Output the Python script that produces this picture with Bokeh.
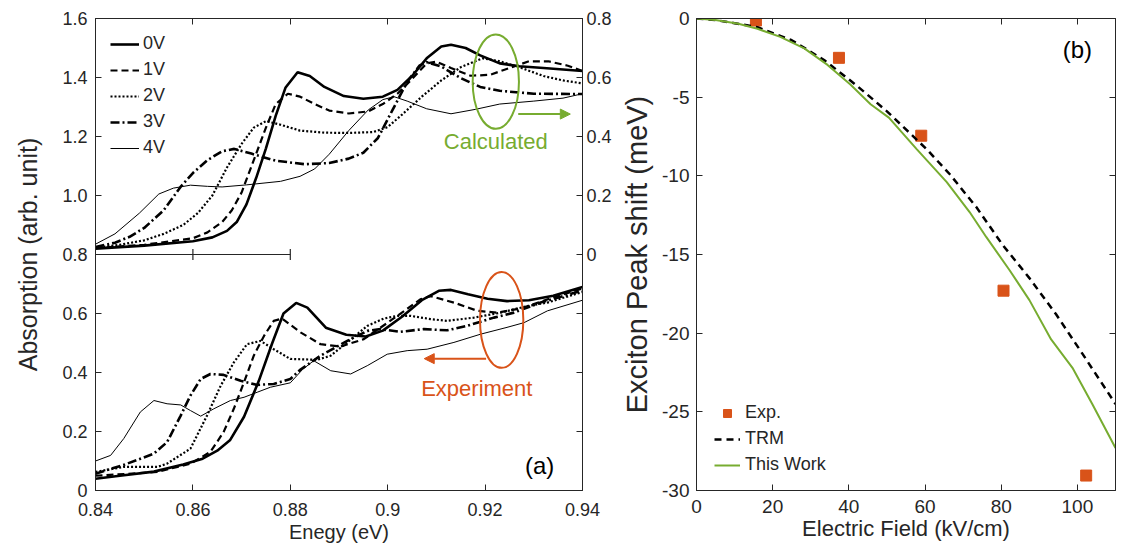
from bokeh.plotting import figure
from bokeh.models import (Range1d, LinearAxis, FixedTicker, Label, Arrow, NormalHead)
from bokeh.layouts import row
from bokeh.embed import file_html
from bokeh.resources import INLINE

FONT = "Liberation Sans"
TXT = "#262626"
GREEN = "#77AC30"
ORANGE = "#D95319"

# ---------------- panel (a) data ----------------
volt_labels = ["0V", "1V", "2V", "3V", "4V"]

# calculated spectra (right axis, 0..0.8)
calc0_x = [0.84, 0.85, 0.86, 0.864, 0.867, 0.869, 0.871, 0.873, 0.875, 0.877, 0.879, 0.8815, 0.884, 0.887, 0.891, 0.895, 0.899, 0.902, 0.905, 0.908, 0.911, 0.913, 0.916, 0.919, 0.923, 0.927, 0.932, 0.94]
calc0_y = [0.020, 0.030, 0.045, 0.058, 0.08, 0.11, 0.17, 0.26, 0.36, 0.47, 0.565, 0.618, 0.605, 0.568, 0.537, 0.528, 0.535, 0.558, 0.605, 0.665, 0.705, 0.711, 0.70, 0.675, 0.648, 0.638, 0.632, 0.622]
calc1_x = [0.84, 0.85, 0.86, 0.863, 0.866, 0.868, 0.870, 0.8725, 0.875, 0.877, 0.8795, 0.882, 0.885, 0.888, 0.892, 0.896, 0.899, 0.902, 0.905, 0.908, 0.910, 0.913, 0.917, 0.921, 0.925, 0.929, 0.933, 0.937, 0.94]
calc1_y = [0.022, 0.033, 0.055, 0.075, 0.11, 0.15, 0.21, 0.32, 0.43, 0.51, 0.545, 0.535, 0.51, 0.488, 0.478, 0.485, 0.51, 0.545, 0.595, 0.648, 0.654, 0.632, 0.606, 0.609, 0.632, 0.655, 0.655, 0.64, 0.622]
calc2_x = [0.84, 0.845, 0.85, 0.854, 0.858, 0.861, 0.864, 0.867, 0.870, 0.8725, 0.875, 0.878, 0.882, 0.887, 0.892, 0.897, 0.900, 0.903, 0.907, 0.911, 0.915, 0.9195, 0.923, 0.927, 0.932, 0.936, 0.94]
calc2_y = [0.022, 0.033, 0.048, 0.07, 0.10, 0.14, 0.20, 0.295, 0.375, 0.43, 0.452, 0.44, 0.42, 0.413, 0.412, 0.415, 0.432, 0.475, 0.535, 0.59, 0.635, 0.665, 0.655, 0.635, 0.605, 0.59, 0.58]
calc3_x = [0.84, 0.844, 0.847, 0.850, 0.854, 0.8575, 0.860, 0.863, 0.866, 0.8685, 0.872, 0.877, 0.883, 0.888, 0.892, 0.895, 0.898, 0.901, 0.904, 0.9065, 0.908, 0.911, 0.915, 0.919, 0.923, 0.93, 0.94]
calc3_y = [0.025, 0.04, 0.06, 0.09, 0.15, 0.23, 0.276, 0.32, 0.35, 0.358, 0.342, 0.318, 0.306, 0.31, 0.325, 0.345, 0.395, 0.49, 0.585, 0.64, 0.652, 0.637, 0.598, 0.568, 0.555, 0.545, 0.544]
calc4_x = [0.84, 0.844, 0.849, 0.853, 0.856, 0.8595, 0.863, 0.866, 0.871, 0.878, 0.882, 0.885, 0.888, 0.892, 0.896, 0.899, 0.9013, 0.904, 0.908, 0.913, 0.918, 0.923, 0.93, 0.936, 0.94]
calc4_y = [0.035, 0.07, 0.14, 0.205, 0.225, 0.235, 0.231, 0.229, 0.236, 0.248, 0.265, 0.29, 0.34, 0.42, 0.49, 0.525, 0.535, 0.52, 0.494, 0.477, 0.492, 0.51, 0.52, 0.53, 0.545]

# experimental spectra (left axis)
exp0_x = [0.84, 0.845, 0.852, 0.858, 0.862, 0.865, 0.8676, 0.8705, 0.8735, 0.8763, 0.8786, 0.8812, 0.8835, 0.8873, 0.8915, 0.8955, 0.899, 0.903, 0.907, 0.9105, 0.913, 0.9165, 0.9205, 0.9245, 0.929, 0.934, 0.94]
exp0_y = [0.040, 0.050, 0.064, 0.088, 0.108, 0.135, 0.170, 0.25, 0.37, 0.50, 0.60, 0.636, 0.62, 0.552, 0.528, 0.522, 0.542, 0.59, 0.645, 0.677, 0.680, 0.665, 0.650, 0.642, 0.645, 0.66, 0.69]
exp1_x = [0.84, 0.846, 0.8527, 0.8595, 0.8636, 0.8663, 0.8684, 0.8705, 0.8725, 0.8746, 0.8766, 0.8783, 0.8821, 0.8862, 0.8903, 0.8951, 0.902, 0.9067, 0.9088, 0.9136, 0.9184, 0.9225, 0.9273, 0.9328, 0.94]
exp1_y = [0.050, 0.056, 0.063, 0.091, 0.131, 0.198, 0.277, 0.367, 0.457, 0.524, 0.575, 0.583, 0.536, 0.496, 0.488, 0.513, 0.592, 0.648, 0.659, 0.637, 0.609, 0.603, 0.617, 0.648, 0.685]
exp2_x = [0.84, 0.8458, 0.8527, 0.8547, 0.8595, 0.8629, 0.8657, 0.8684, 0.8711, 0.8739, 0.8766, 0.880, 0.8855, 0.8883, 0.8917, 0.8958, 0.8992, 0.902, 0.9047, 0.9088, 0.9122, 0.9177, 0.9232, 0.9286, 0.9328, 0.94]
exp2_y = [0.063, 0.080, 0.080, 0.091, 0.142, 0.254, 0.355, 0.434, 0.496, 0.507, 0.479, 0.446, 0.443, 0.457, 0.502, 0.558, 0.583, 0.592, 0.592, 0.581, 0.575, 0.586, 0.603, 0.625, 0.637, 0.673]
exp3_x = [0.84, 0.846, 0.852, 0.8547, 0.8575, 0.8595, 0.8616, 0.8636, 0.8663, 0.8698, 0.8732, 0.8766, 0.880, 0.8821, 0.8862, 0.8917, 0.8958, 0.8985, 0.9026, 0.9074, 0.9122, 0.9163, 0.9218, 0.9259, 0.9314, 0.94]
exp3_y = [0.057, 0.088, 0.125, 0.164, 0.254, 0.322, 0.378, 0.395, 0.392, 0.372, 0.358, 0.361, 0.378, 0.41, 0.457, 0.507, 0.541, 0.547, 0.538, 0.547, 0.543, 0.558, 0.586, 0.603, 0.637, 0.678]
exp4_x = [0.84, 0.8431, 0.8458, 0.8492, 0.852, 0.8547, 0.8575, 0.8595, 0.8616, 0.8643, 0.8677, 0.8705, 0.8732, 0.8759, 0.880, 0.8825, 0.8848, 0.8883, 0.8924, 0.8958, 0.8999, 0.904, 0.9081, 0.9136, 0.9191, 0.9245, 0.928, 0.9328, 0.94]
exp4_y = [0.10, 0.119, 0.176, 0.266, 0.305, 0.294, 0.290, 0.271, 0.252, 0.277, 0.305, 0.316, 0.333, 0.350, 0.365, 0.41, 0.44, 0.406, 0.395, 0.423, 0.462, 0.474, 0.479, 0.502, 0.530, 0.553, 0.569, 0.609, 0.645]

a_xticks = [0.84, 0.86, 0.88, 0.9, 0.92, 0.94]
a_xtick_labels = ["0.84", "0.86", "0.88", "0.9", "0.92", "0.94"]
a_yticks = [0, 0.2, 0.4, 0.6, 0.8, 1.0, 1.2, 1.4, 1.6]
a_ytick_labels = ["0", "0.2", "0.4", "0.6", "0.8", "1.0", "1.2", "1.4", "1.6"]
a_rticks = [-0.6, -0.4, -0.2, 0, 0.2, 0.4, 0.6, 0.8]
a_rtick_labels = ["", "", "", "0", "0.2", "0.4", "0.6", "0.8"]

# partial axis of the upper (calculated) plot
inset_axis_x = [0.84, 0.88]
inset_axis_y = [0.8, 0.8]
inset_tick_x = [0.86, 0.88]
inset_tick_y = [0.8, 0.8]

# ---------------- panel (b) data ----------------
exp_field = [15.6, 37.4, 59.0, 80.6, 102.3]
exp_shift = [-0.13, -2.5, -7.45, -17.3, -29.05]
trm_field = [0, 5, 10, 16, 25, 33.5, 42, 50, 60.4, 66.5, 73.5, 80.4, 87.4, 94.4, 101.3, 110]
trm_shift = [0, -0.1, -0.3, -0.55, -1.38, -2.64, -4.25, -5.9, -8.3, -9.9, -12.0, -14.4, -16.5, -18.8, -21.3, -24.5]
work_field = [0, 5, 11, 16, 22, 28.3, 34.4, 40.4, 45.7, 50.5, 57.8, 65.7, 71.7, 76.1, 82.2, 87.4, 93.1, 98.7, 103.9, 110]
work_shift = [0, -0.1, -0.33, -0.65, -1.17, -1.9, -2.95, -4.2, -5.45, -6.3, -8.3, -10.4, -12.3, -13.9, -16.0, -17.9, -20.4, -22.2, -24.5, -27.3]

b_xticks = [0, 20, 40, 60, 80, 100]
b_xtick_labels = ["0", "20", "40", "60", "80", "100"]
b_yticks = [-30, -25, -20, -15, -10, -5, 0]
b_ytick_labels = ["-30", "-25", "-20", "-15", "-10", "-5", "0"]


def style_axis(ax, ticks, labels, size, show_labels=True):
    ax.ticker = FixedTicker(ticks=ticks)
    ax.major_label_overrides = {t: (l if show_labels else "") for t, l in zip(ticks, labels)}
    ax.minor_tick_line_color = None
    ax.major_tick_in = 6
    ax.major_tick_out = 0
    ax.major_tick_line_color = TXT
    ax.major_tick_line_width = 1
    ax.axis_line_color = TXT
    ax.axis_line_width = 1
    ax.major_label_text_font = FONT
    ax.major_label_text_color = TXT
    ax.major_label_text_font_size = size if show_labels else "0px"
    ax.axis_label_text_font = FONT
    ax.axis_label_text_color = TXT
    ax.axis_label_text_font_style = "normal"


# ================= panel (a) =================
pa = figure(width=617, height=549, x_range=Range1d(0.84, 0.94), y_range=Range1d(0, 1.6),
            output_backend="svg", toolbar_location=None,
            min_border_left=95, min_border_right=35, min_border_top=18, min_border_bottom=57)
pa.extra_y_ranges = {"calc": Range1d(-0.8, 0.8)}
pa.grid.visible = False
pa.outline_line_color = TXT
pa.background_fill_color = "white"

style_axis(pa.xaxis[0], a_xticks, a_xtick_labels, "18px")
pa.xaxis[0].axis_label = "Enegy (eV)"
pa.xaxis[0].axis_label_text_font_size = "20px"
pa.xaxis[0].major_label_standoff = 12
pa.xaxis[0].axis_label_standoff = 2
style_axis(pa.yaxis[0], a_yticks, a_ytick_labels, "18px")
pa.yaxis[0].axis_label = "Absorption (arb. unit)"
pa.yaxis[0].axis_label_text_font_size = "25px"
pa.yaxis[0].major_label_standoff = 8
pa.yaxis[0].axis_label_standoff = 17

top_a = LinearAxis()
style_axis(top_a, a_xticks[1:-1], a_xtick_labels[1:-1], "18px", show_labels=False)
top_a.major_label_standoff = 0
pa.add_layout(top_a, "above")

right_a = LinearAxis(y_range_name="calc")
style_axis(right_a, a_rticks, a_rtick_labels, "18px")
right_a.major_label_standoff = 4
pa.add_layout(right_a, "right")

calc_sets = [(calc0_x, calc0_y), (calc1_x, calc1_y), (calc2_x, calc2_y), (calc3_x, calc3_y), (calc4_x, calc4_y)]
exp_sets = [(exp0_x, exp0_y), (exp1_x, exp1_y), (exp2_x, exp2_y), (exp3_x, exp3_y), (exp4_x, exp4_y)]
styles = [
    dict(line_width=2.6, line_dash="solid"),
    dict(line_width=2.2, line_dash="7 4"),
    dict(line_width=2.2, line_dash="2 2"),
    dict(line_width=2.6, line_dash="9 3 2 3"),
    dict(line_width=1.0, line_dash="solid"),
]

for (cx, cy), st, lab in zip(calc_sets, styles, volt_labels):
    pa.line(cx, cy, y_range_name="calc", line_color="black", legend_label=lab, **st)
for (ex, ey), st in zip(exp_sets, styles):
    pa.line(ex, ey, line_color="black", **st)

# partial axis line at 0.8
pa.line(inset_axis_x, inset_axis_y, line_color=TXT, line_width=1.2)
pa.scatter(inset_tick_x, inset_tick_y, marker="dash", angle=1.5708, size=11, line_color=TXT, line_width=1.2)

# annotations
pa.ellipse(x=[0.9222], y=[1.386], width=[0.0095], height=[0.32], fill_color=None,
           line_color=GREEN, line_width=2)
pa.add_layout(Arrow(end=NormalHead(size=10, fill_color=GREEN, line_color=GREEN),
                    x_start=0.9268, y_start=1.276, x_end=0.9375, y_end=1.276,
                    line_color=GREEN, line_width=2))
pa.add_layout(Label(x=0.9222, y=1.182, text="Calculated", text_font=FONT, text_font_size="22px",
                    text_color=GREEN, text_align="center", text_baseline="middle"))

pa.ellipse(x=[0.9234], y=[0.578], width=[0.0089], height=[0.325], fill_color=None,
           line_color=ORANGE, line_width=2)
pa.add_layout(Arrow(end=NormalHead(size=10, fill_color=ORANGE, line_color=ORANGE),
                    x_start=0.9202, y_start=0.447, x_end=0.9075, y_end=0.447,
                    line_color=ORANGE, line_width=2))
pa.add_layout(Label(x=0.9183, y=0.347, text="Experiment", text_font=FONT, text_font_size="22px",
                    text_color=ORANGE, text_align="center", text_baseline="middle"))

pa.add_layout(Label(x=0.9312, y=0.086, text="(a)", text_font=FONT, text_font_size="24px",
                    text_color="black", text_align="center", text_baseline="middle"))

lg = pa.legend[0]
lg.location = "top_left"
lg.margin = 10
lg.padding = 5
lg.spacing = 5
lg.glyph_width = 29
lg.glyph_height = 20
lg.label_height = 20
lg.label_standoff = 4
lg.label_text_font = FONT
lg.label_text_font_size = "18px"
lg.label_text_color = TXT
lg.border_line_alpha = 0
lg.background_fill_alpha = 0

# ================= panel (b) =================
pb = figure(width=506, height=549, x_range=Range1d(0, 110), y_range=Range1d(-30, 0),
            output_backend="svg", toolbar_location=None,
            min_border_left=79, min_border_right=8, min_border_top=18, min_border_bottom=59)
pb.grid.visible = False
pb.outline_line_color = TXT

style_axis(pb.xaxis[0], b_xticks, b_xtick_labels, "19px")
pb.xaxis[0].axis_label = "Electric Field (kV/cm)"
pb.xaxis[0].axis_label_text_font_size = "22px"
pb.xaxis[0].major_label_standoff = 9
pb.xaxis[0].axis_label_standoff = 0
style_axis(pb.yaxis[0], b_yticks, b_ytick_labels, "19px")
pb.yaxis[0].axis_label = "Exciton Peak shift (meV)"
pb.yaxis[0].axis_label_text_font_size = "29px"
pb.yaxis[0].major_label_standoff = 7
pb.yaxis[0].axis_label_standoff = 6

top_b = LinearAxis()
style_axis(top_b, b_xticks[1:], b_xtick_labels[1:], "19px", show_labels=False)
top_b.major_label_standoff = 0
pb.add_layout(top_b, "above")
right_b = LinearAxis()
style_axis(right_b, b_yticks[1:-1], b_ytick_labels[1:-1], "19px", show_labels=False)
right_b.major_label_standoff = 0
pb.add_layout(right_b, "right")

pb.scatter(exp_field, exp_shift, marker="square", size=11, fill_color=ORANGE, line_color=ORANGE,
           legend_label="Exp.")
pb.line(trm_field, trm_shift, line_color="black", line_width=2.5, line_dash="7 5", legend_label="TRM")
pb.line(work_field, work_shift, line_color=GREEN, line_width=2, legend_label="This Work")

pb.add_layout(Label(x=100, y=-1.94, text="(b)", text_font=FONT, text_font_size="24px",
                    text_color="black", text_align="center", text_baseline="middle"))

lb = pb.legend[0]
lb.location = (13, 10)
lb.margin = 0
lb.padding = 5
lb.spacing = 5
lb.glyph_width = 26
lb.glyph_height = 20
lb.label_height = 20
lb.label_standoff = 5
lb.label_text_font = FONT
lb.label_text_font_size = "18px"
lb.label_text_color = TXT
lb.border_line_alpha = 0
lb.background_fill_alpha = 0

layout = row(pa, pb, spacing=0)
open("out.html", "w").write(file_html(layout, INLINE))
